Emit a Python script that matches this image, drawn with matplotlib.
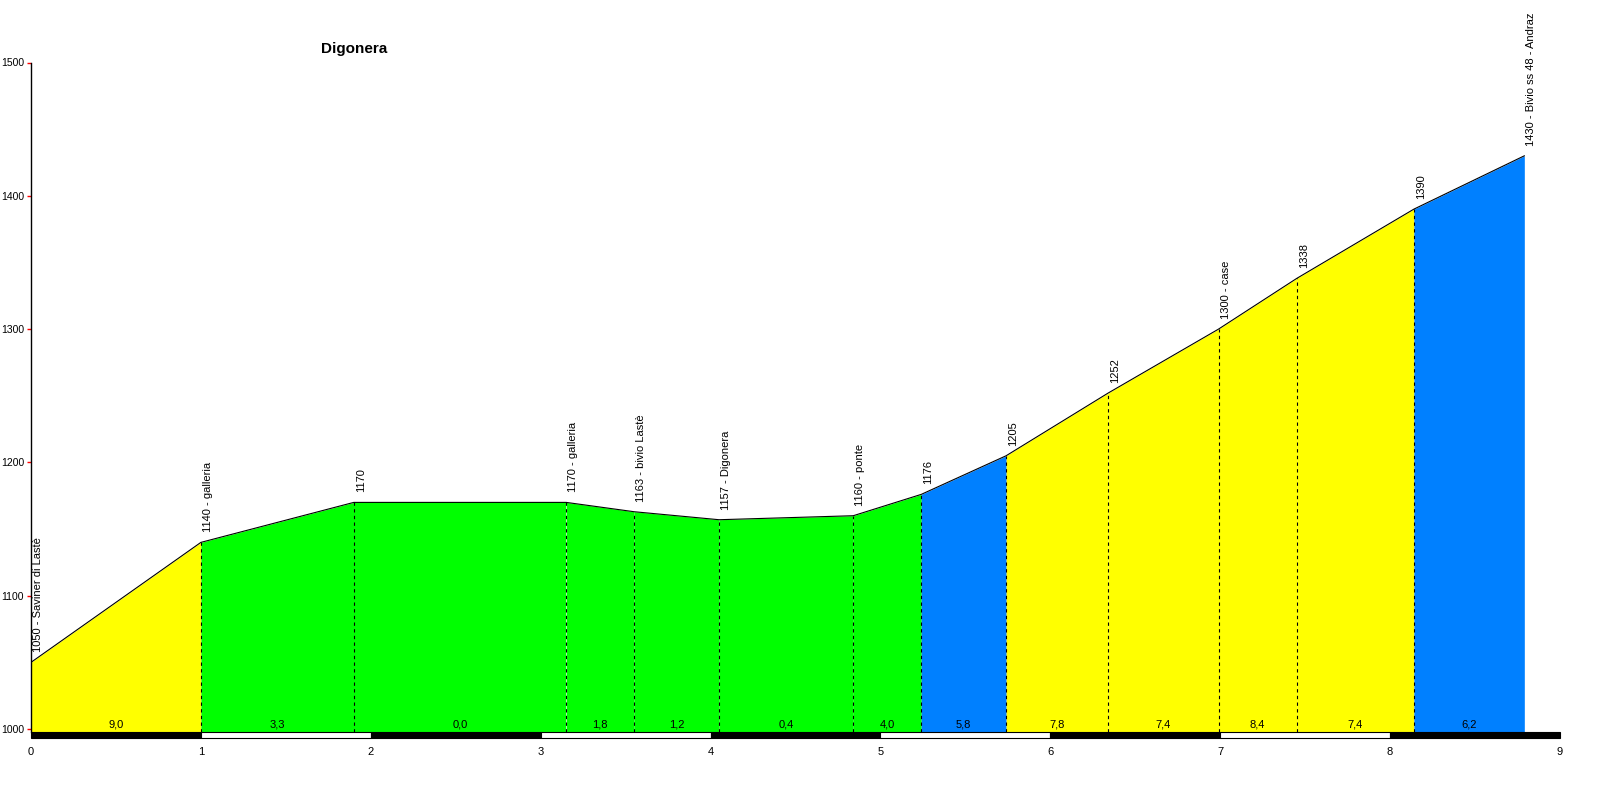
import matplotlib
matplotlib.use("Agg")
import matplotlib.pyplot as plt
from matplotlib.patches import Rectangle

plt.rcParams['font.family'] = ['Liberation Sans', 'DejaVu Sans']

# profile points: km, altitude, label
km = [0, 1.0, 1.9, 3.15, 3.55, 4.05, 4.84, 5.24, 5.74, 6.34, 6.99, 7.45, 8.14, 8.79]
alt = [1050, 1140, 1170, 1170, 1163, 1157, 1160, 1176, 1205, 1252, 1300, 1338, 1390, 1430]
names = ['Saviner di Lastè', 'galleria', '', 'galleria', 'bivio Lastè', 'Digonera', 'ponte',
         '', '', '', 'case', '', '', 'Bivio ss 48 - Andraz']
grades = ['9,0', '3,3', '0,0', '1,8', '1,2', '0,4', '4,0', '5,8', '7,8', '7,4', '8,4', '7,4', '6,2']
title = 'Digonera'


def grade_color(g):
    v = float(g.replace(',', '.'))
    if v < 5:
        return '#00ff00'
    if v < 7:
        return '#0080ff'
    return '#ffff00'


fig = plt.figure(figsize=(16, 8.01), dpi=100)
ax = fig.add_axes([31 / 1600, 72 / 801, 1529 / 1600, 666.5 / 801])
ax.set_xlim(0, 9)
ax.set_ylim(1000, 1500)

for i in range(len(grades)):
    x0, x1 = km[i], km[i + 1]
    ax.fill_between([x0, x1], [alt[i], alt[i + 1]], 997.9, color=grade_color(grades[i]), lw=0, clip_on=False)
    ax.text((x0 + x1) / 2, 999.5, grades[i], ha='center', va='bottom', fontsize=8)

ax.plot(km, alt, color='black', lw=0.8)

for i in range(1, len(km) - 1):
    ax.plot([km[i], km[i]], [998, alt[i]], color='black', lw=0.8, ls=(0, (3, 3)), clip_on=False)

for k, a, n in zip(km, alt, names):
    s = str(a) if n == '' else '%d - %s' % (a, n)
    ax.annotate(s, (k, a), xytext=(2, 10), textcoords='offset pixels', rotation=90,
                ha='left', va='bottom', fontsize=8, annotation_clip=False)

# km scale bar under the profile
for i in range(9):
    fc = 'black' if i % 2 == 0 else 'white'
    ax.add_patch(Rectangle((i, 993.6), 1, 4.2, facecolor=fc, edgecolor='black', lw=0.8, clip_on=False))

for s in ['top', 'right', 'bottom']:
    ax.spines[s].set_visible(False)
ax.spines['left'].set_linewidth(1)
ax.spines['left'].set_bounds(997.9, 1500)

ax.set_yticks(range(1000, 1501, 100))
ax.tick_params(axis='y', colors='red', labelcolor='black', length=3, width=1, labelsize=7.5, pad=2)
ax.set_xticks(range(10))
ax.tick_params(axis='x', length=0, labelsize=8, pad=13)

fig.text(354 / 1600, 1 - 49 / 801, title, ha='center', va='center', fontsize=11, fontweight='bold')

fig.savefig('out.png', dpi=100)
